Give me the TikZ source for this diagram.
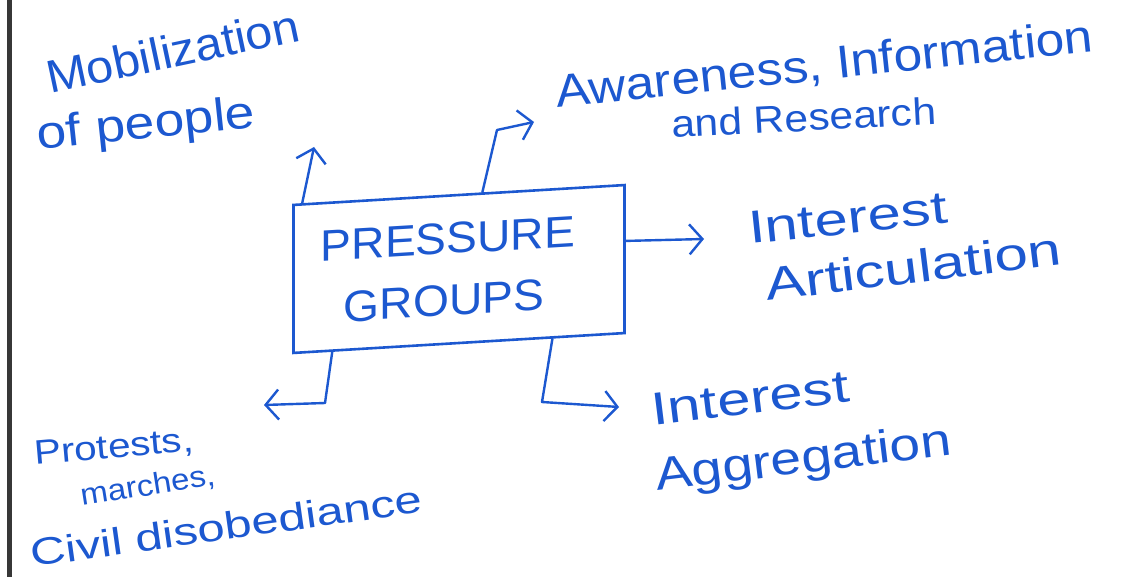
\documentclass[tikz,border=0pt]{standalone}
\usepackage{fontspec}
\setmainfont{Liberation Sans}
\usetikzlibrary{arrows.meta,calc}
\definecolor{ink}{RGB}{28,88,208}
\definecolor{edgegrey}{RGB}{55,55,55}
\begin{document}
\begin{tikzpicture}[x=1pt,y=-1pt,
  hand/.style={text=ink,inner sep=0pt,anchor=base west,
    font=\fontsize{46}{52}\selectfont\addfontfeature{FakeStretch=#1}},
  hand/.default=1.2,
  smallhand/.style={text=ink,inner sep=0pt,anchor=base west,
    font=\fontsize{34}{40}\selectfont\addfontfeature{FakeStretch=#1}},
  smallhand/.default=1.2,
  conn/.style={draw=ink,line width=2.4pt,line cap=round,line join=round,
    -{Straight Barb[length=13pt,width=30pt,line width=2.4pt]}},
  pgbox/.style={draw=ink,line width=2.6pt,minimum width=331pt,minimum height=148pt,
    text=ink,align=center,inner sep=0pt,
    font=\fontsize{44}{66}\selectfont\addfontfeature{FakeStretch=1.05}}]
\useasboundingbox (0,0) rectangle (1126,577);
\fill[white] (0,0) rectangle (1126,577);
% left page edge
\draw[edgegrey,line width=5pt] (9,0) -- (9,577);

% central box
\node[pgbox,yslant=0.06] (pg) at (459,269) {\hspace*{-22pt}PRESSURE\\[-4pt]\hspace*{-30pt}GROUPS};

% labels
\node[rotate=12,hand=1.06] (mob1) at (50,94) {Mobilization};
\node[rotate=6,hand=1.16] (mob2) at (38,150) {of people};

\node[rotate=6,hand=1.12] (aw1) at (557,108) {Awareness, Information};
\node[rotate=3,smallhand=1.12,font=\fontsize{38}{44}\selectfont\addfontfeature{FakeStretch=1.12}] (aw2) at (672,138) {and Research};

\node[rotate=6,hand=1.3] (ia1) at (750,244) {Interest};
\node[rotate=7,hand=1.31] (ia2) at (767,301) {Articulation};

\node[rotate=7,hand=1.3] (ig1) at (653,426) {Interest};
\node[rotate=7,hand=1.2] (ig2) at (657,491) {Aggregation};

\node[rotate=5,smallhand=1.19] (pr1) at (35,465) {Protests,};
\node[rotate=9,smallhand=1.1,font=\fontsize{30}{36}\selectfont\addfontfeature{FakeStretch=1.1}] (pr2) at (82,506) {marches,};
\node[rotate=8,smallhand=1.29,font=\fontsize{38}{44}\selectfont\addfontfeature{FakeStretch=1.29}] (pr3) at (32,567) {Civil disobediance};

% connector end points
\coordinate (mobT) at (314,147);
\coordinate (awB) at (497,130);
\coordinate (awT) at (534,122);
\coordinate (iaT) at (704,239);
\coordinate (igB) at (542,402);
\coordinate (igT) at (619,407);
\coordinate (prB) at (325,403);
\coordinate (prT) at (264,405);

% connectors
\draw[conn] ($(pg.north west)!0.03!(pg.north east)$) -- (mobT);
\draw[conn] ($(pg.north west)!0.57!(pg.north east)$) -- (awB) -- (awT);
\draw[conn] ($(pg.north east)!0.38!(pg.south east)$) -- (iaT);
\draw[conn] ($(pg.south west)!0.78!(pg.south east)$) -- (igB) -- (igT);
\draw[conn] ($(pg.south west)!0.12!(pg.south east)$) -- (prB) -- (prT);
\end{tikzpicture}
\end{document}
